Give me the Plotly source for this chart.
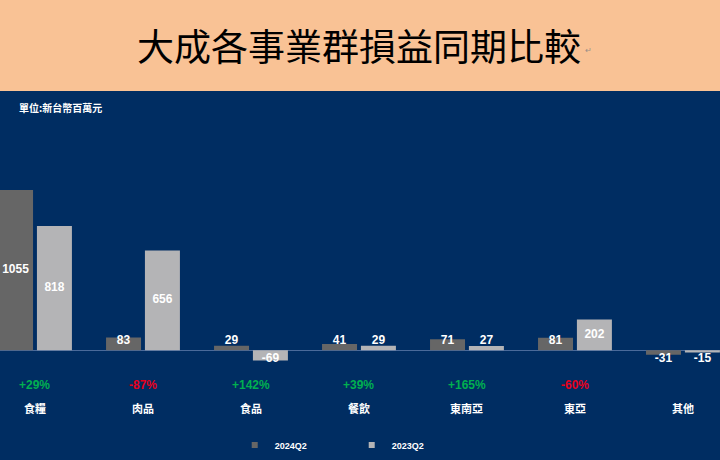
import plotly.graph_objects as go

categories = ["食糧", "肉品", "食品", "餐飲", "東南亞", "東亞", "其他"]
series_names = ["2024Q2", "2023Q2"]
values_2024 = [1055, 83, 29, 41, 71, 81, -31]
values_2023 = [818, 656, -69, 29, 27, 202, -15]
growth_labels = ["+29%", "-87%", "+142%", "+39%", "+165%", "-60%", ""]

DARK = "#666666"
LIGHT = "#b4b4b6"
NAVY = "#002d62"
PEACH = "#f9c295"
GREEN = "#00b050"
RED = "#e8001c"
NUMFONT = "Liberation Sans, Arial, sans-serif"
CJK = "Noto Sans CJK TC, sans-serif"

idx = list(range(len(categories)))
slot = 0.36
min_label = 58

def label_y(v):
    m = max(abs(v) / 2, min_label)
    return m if v >= 0 else -m

fig = go.Figure()
for name, vals, col in [(series_names[0], values_2024, DARK), (series_names[1], values_2023, LIGHT)]:
    fig.add_trace(go.Bar(x=idx, y=vals, name=name, legendgroup=name, showlegend=False,
                         marker=dict(color=col, line=dict(width=0)), hoverinfo="y"))

for vals, off in [(values_2024, -slot / 2), (values_2023, slot / 2)]:
    fig.add_trace(go.Scatter(x=[i + off for i in idx], y=[label_y(v) for v in vals],
                             mode="text", text=[str(v) for v in vals],
                             textfont=dict(color="white", size=12, family=NUMFONT, weight="bold"),
                             showlegend=False, hoverinfo="skip"))

# legend entries with small square swatches, linked to the bar series
for name, col in [(series_names[0], DARK), (series_names[1], LIGHT)]:
    fig.add_trace(go.Scatter(x=[None], y=[None], mode="markers", name=name, legendgroup=name,
                             marker=dict(symbol="square", size=6, color=col)))

annotations = []
for i, (cat, g) in enumerate(zip(categories, growth_labels)):
    if g:
        annotations.append(dict(x=i, y=1 - 389 / 460, xref="x", yref="paper", text=g, showarrow=False,
                                xanchor="center", yanchor="middle",
                                font=dict(color=GREEN if g.startswith("+") else RED, size=12,
                                          family=NUMFONT, weight="bold")))
    annotations.append(dict(x=i, y=1 - 412 / 460, xref="x", yref="paper", text=cat, showarrow=False,
                            xanchor="center", yanchor="middle",
                            font=dict(color="white", size=11, family=CJK, weight="bold")))

annotations.append(dict(x=359 / 720, y=1 - 45 / 460, xref="paper", yref="paper", text="大成各事業群損益同期比較",
                        showarrow=False, xanchor="center", yanchor="middle",
                        font=dict(color="black", size=37, family=CJK)))
annotations.append(dict(x=588 / 720, y=1 - 50 / 460, xref="paper", yref="paper", text="↵",
                        showarrow=False, xanchor="center", yanchor="middle",
                        font=dict(color="#9a8f88", size=8, family=CJK)))
annotations.append(dict(x=17 / 720, y=1 - 109 / 460, xref="paper", yref="paper", text="單位:新台幣百萬元",
                        showarrow=False, xanchor="left", yanchor="middle",
                        font=dict(color="white", size=10, family=CJK, weight="bold")))

fig.update_layout(
    width=720, height=460,
    margin=dict(l=0, r=0, t=0, b=0),
    paper_bgcolor=NAVY, plot_bgcolor=NAVY,
    barmode="group", bargap=0.28, bargroupgap=0.1,
    xaxis=dict(range=[-0.324, 6.343], visible=False, fixedrange=True),
    yaxis=dict(range=[-690.6, 2306], showgrid=False, showticklabels=False,
               zeroline=True, zerolinecolor="#4a6a9a", zerolinewidth=1, fixedrange=True),
    shapes=[dict(type="rect", xref="paper", yref="paper", x0=0, x1=1, y0=0.8, y1=1,
                 fillcolor=PEACH, line=dict(width=0), layer="above")],
    annotations=annotations,
    showlegend=True,
    legend=dict(orientation="h", x=0.326, y=1 - 450 / 460, yanchor="middle", xanchor="left",
                font=dict(color="white", size=9, family=NUMFONT, weight="bold"),
                bgcolor="rgba(0,0,0,0)", entrywidth=72, itemwidth=30, tracegroupgap=0),
)

fig.write_html("out.html", config={"displayModeBar": False},
               post_script="document.body.style.margin='0';document.body.style.overflow='hidden';")
